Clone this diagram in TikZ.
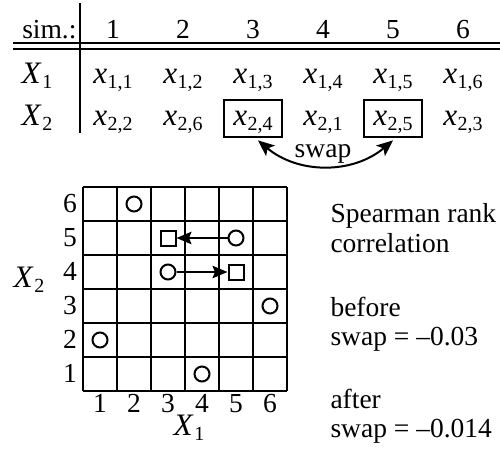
\documentclass[tikz,border=0pt]{standalone}
\usepackage{fontspec}
\setmainfont{Liberation Serif}
\usetikzlibrary{arrows.meta}
\newcommand{\vsub}[2]{{\fontsize{12.5}{13}\selectfont\textit{#1}}\kern0.2pt\raisebox{-0.45ex}{\fontsize{8}{8}\selectfont #2}}

\begin{document}
\begin{tikzpicture}[
  x=0.4pt, y=0.4pt,
  txt/.style={inner sep=0pt, anchor=base, font=\fontsize{11}{13}\selectfont},
  pick/.style={txt, draw, line width=0.7pt, minimum width=23.2pt,
               text height=10pt, text depth=4.8pt, inner ysep=0pt},
  ring/.style={circle, draw, line width=0.8pt, inner sep=0pt, minimum size=6pt},
  sq/.style={rectangle, draw, line width=0.8pt, inner sep=0pt, minimum size=6pt},
  arr/.style={-{Stealth[length=6pt,width=5pt,inset=1pt]}, line width=0.7pt},
  swaparr/.style={{Stealth[length=6.5pt,width=5.5pt,inset=1.5pt]}-{Stealth[length=6.5pt,width=5.5pt,inset=1.5pt]}, line width=0.8pt},
]
  \useasboundingbox (0,0) rectangle (500,449);

  \node[txt, anchor=base east] (sim) at (77,411) {sim.:};
  \foreach \c/\px in {1/113,2/183,3/253,4/323,5/393,6/463}
    \node[txt] (h\c) at (\px,411) {\c};
  \draw[line width=0.7pt] (80,446) -- (80,316);
  \draw[line width=0.7pt] (13,406) -- (500,406) (13,400) -- (500,400);

  \node[txt] (r1) at (37,366) {\vsub{X}{1}};
  \node[txt] (r2) at (37,324) {\vsub{X}{2}};
  \foreach \c/\px in {1/113,2/183,3/253,4/323,5/393,6/463}
    \node[txt] (a\c) at (\px,366) {\vsub{x}{1,\c}};
  \foreach \c/\px/\v/\s in {1/113/2/txt,2/183/6/txt,3/253/4/pick,4/323/1/txt,5/393/5/pick,6/463/3/txt}
    \node[\s] (b\c) at (\px,324) {\vsub{x}{2,\v}};

  \draw[swaparr] ([xshift=2pt,yshift=-1pt]b3.south) to[out=-40,in=-140] ([yshift=-1pt]b5.south);
  \node[txt] (swap) at (323,292) {swap};

  % rank grid
  \draw[line width=0.7pt, shift={(83,58)}] (0,0) grid[step=34] (204,204);
  \foreach \r in {1,...,6}
    \node[txt] (y\r) at (70,{32.5+34*\r}) {\r};
  \foreach \c in {1,...,6}
    \node[txt] (x\c) at ({66+34*\c},37) {\c};
  \node[txt] (xl) at (189,14) {\vsub{X}{1}};
  \node[txt] (yl) at (29,162) {\vsub{X}{2}};

  \foreach \i/\j in {2/6,5/5,3/4,6/3,1/2,4/1}
    \node[ring] (c\i\j) at ({66+34*\i},{41+34*\j}) {};
  \foreach \i/\j in {3/5,5/4}
    \node[sq] (s\i\j) at ({66+34*\i},{41+34*\j}) {};
  \draw[arr] (c55) -- (s35);
  \draw[arr] (c34) -- (s54);

  \node[txt, anchor=base west] (sp1) at (330,227) {Spearman rank};
  \node[txt, anchor=base west] (sp2) at (330,197) {correlation};
  \node[txt, anchor=base west] (bf1) at (330,133) {before};
  \node[txt, anchor=base west] (bf2) at (330,104) {swap = –0.03};
  \node[txt, anchor=base west] (af1) at (330,41) {after};
  \node[txt, anchor=base west] (af2) at (330,12) {swap = –0.014};
\end{tikzpicture}
\end{document}
